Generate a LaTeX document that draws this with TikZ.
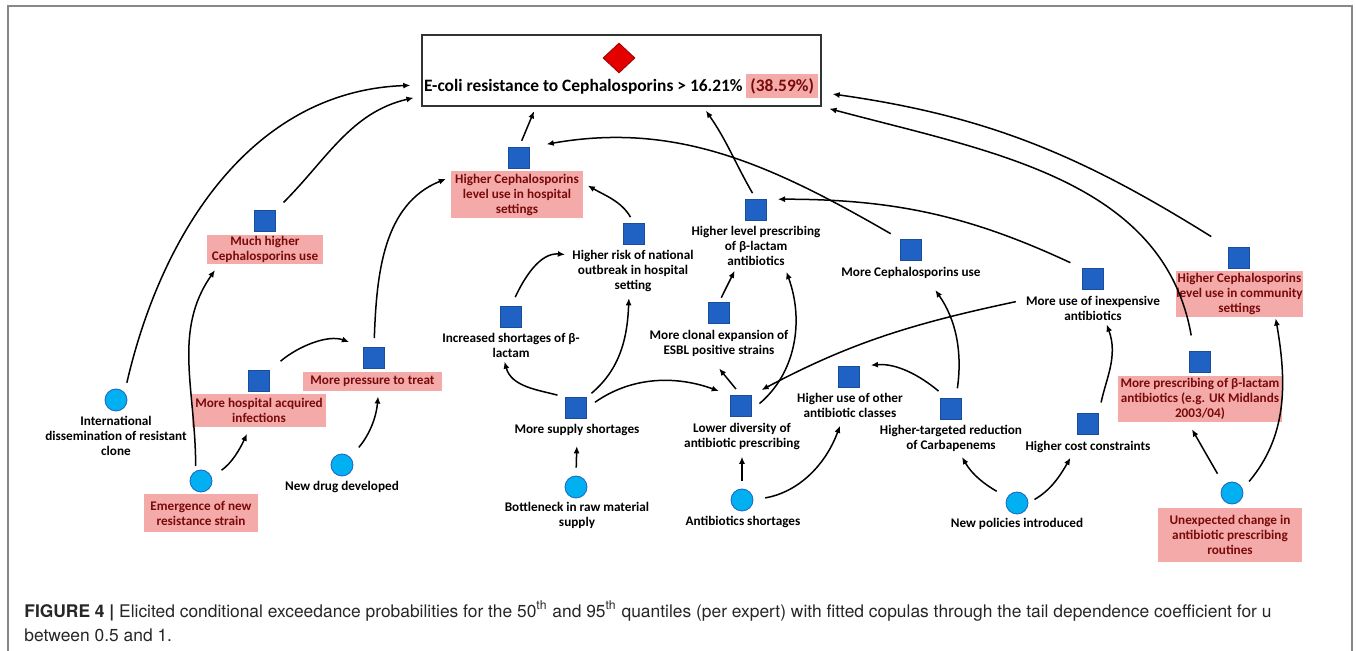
\documentclass[tikz,border=0pt]{standalone}
\usepackage{fontspec}
\setmainfont{TeX Gyre Heros}
\newfontfamily\carlito{Carlito}
\usetikzlibrary{arrows.meta,shapes.geometric}
\definecolor{pinkbox}{RGB}{245,170,170}
\definecolor{boxtext}{RGB}{120,10,10}
\definecolor{sqblue}{RGB}{31,98,196}
\definecolor{dotblue}{RGB}{0,176,240}
\definecolor{framegray}{RGB}{135,135,135}
\newcommand{\labfont}{\carlito\bfseries\fontsize{6.6}{7.5}\selectfont}
\newcommand{\pinkhl}[1]{{\setlength{\fboxsep}{2pt}\colorbox{pinkbox}{\textcolor{boxtext}{#1}}}}

\begin{document}
\begin{tikzpicture}[x=0.5pt, y=0.5pt, >={Latex[length=3.6pt,width=3pt]},
    sq/.style={rectangle, minimum size=10.5pt, inner sep=0pt, fill=sqblue, draw=sqblue!80!black, line width=0.3pt},
    dot/.style={circle, minimum size=11pt, inner sep=0pt, fill=dotblue, draw=sqblue, line width=0.4pt},
    lbl/.style={font=\labfont, align=center, inner sep=1pt},
    plbl/.style={lbl, fill=pinkbox, text=boxtext, inner sep=0pt},
    arr/.style={->, line width=0.75pt}]

\useasboundingbox (0,0) rectangle (1356,-651);
\fill[white] (0,0) rectangle (1356,-651);

% Figure frame
\draw[framegray, line width=0.7pt] (8,-651) -- (8,-6) -- (1352,-6) -- (1352,-651);

% Target node
\node[draw=black!80, line width=0.6pt, minimum width=199.5pt, minimum height=35.5pt, inner sep=0pt] (goal) at (621.5,-70.5) {};
\node[diamond, fill=red!90!black, draw=red!60!black, minimum width=16pt, minimum height=15pt, inner sep=0pt] (goalmark) at (619,-58) {};
\node[font=\carlito\bfseries\fontsize{8.7}{10}\selectfont, inner sep=0pt] (goaltxt) at (621,-86) {E-coli resistance to Cephalosporins > 16.21\% \pinkhl{(38.59\%)}};

% Decision nodes (squares)
\node[sq] (hchI) at (519,-158) {};
\node[plbl, minimum width=66pt, minimum height=23.5pt] (hch) at (517,-194.5) {Higher Cephalosporins\\level use in hospital\\settings};
\node[sq] (mhcI) at (265,-221) {};
\node[plbl, minimum width=58pt, minimum height=14.5pt] (mhc) at (265,-249.5) {Much higher\\Cephalosporins use};
\node[sq] (hrnI) at (634,-234) {};
\node[lbl] (hrn) at (633,-271) {Higher risk of national\\outbreak in hospital\\setting};
\node[sq] (hlpI) at (756,-210) {};
\node[lbl] (hlp) at (756,-246) {Higher level prescribing\\of β-lactam\\antibiotics};
\node[sq] (isbI) at (511,-317) {};
\node[lbl] (isb) at (511,-345) {Increased shortages of β-\\lactam};
\node[sq] (mceI) at (719,-313) {};
\node[lbl] (mce) at (719,-343) {More clonal expansion of\\ESBL positive strains};
\node[sq] (mssI) at (576,-408) {};
\node[lbl] (mss) at (577,-430) {More supply shortages};
\node[sq] (ldaI) at (741,-406) {};
\node[lbl] (lda) at (742,-436) {Lower diversity of\\antibiotic prescribing};
\node[sq] (mcuI) at (911,-250) {};
\node[lbl] (mcu) at (911,-273) {More Cephalosporins use};
\node[sq] (muiI) at (1093,-279) {};
\node[lbl] (mui) at (1093,-308) {More use of inexpensive\\antibiotics};
\node[sq] (huoI) at (849,-377) {};
\node[lbl] (huo) at (850,-405.5) {Higher use of other\\antibiotic classes};
\node[sq] (htrI) at (951,-409) {};
\node[lbl] (htr) at (951,-438) {Higher-targeted reduction\\of Carbapenems};
\node[sq] (hccI) at (1088,-424) {};
\node[lbl] (hcc) at (1088,-447) {Higher cost constraints};
\node[sq] (hccoI) at (1239,-258) {};
\node[plbl, minimum width=62.5pt, minimum height=23pt] (hcco) at (1239.5,-294) {Higher Cephalosporins\\level use in community\\settings};
\node[sq] (mpbI) at (1200,-362) {};
\node[plbl, minimum width=82pt, minimum height=23pt] (mpb) at (1200,-399) {More prescribing of β-lactam\\antibiotics (e.g. UK Midlands\\2003/04)};
\node[sq] (mptI) at (374,-358) {};
\node[plbl, minimum width=69.5pt, minimum height=9.5pt] (mpt) at (372.5,-381.5) {More pressure to treat};
\node[sq] (mhaI) at (259,-381) {};
\node[plbl, minimum width=67pt, minimum height=16.5pt] (mha) at (259,-410.5) {More hospital acquired\\infections};

% Chance nodes (circles)
\node[dot] (ucaI) at (1232,-493) {};
\node[plbl, minimum width=72pt, minimum height=27pt] (uca) at (1230,-535) {Unexpected change in\\antibiotic prescribing\\routines};
\node[dot] (npiI) at (1017,-503) {};
\node[lbl] (npi) at (1017,-524) {New policies introduced};
\node[dot] (absI) at (742,-500) {};
\node[lbl] (abs) at (743,-522) {Antibiotics shortages};
\node[dot] (brmI) at (576,-487) {};
\node[lbl] (brm) at (577,-515.5) {Bottleneck in raw material\\supply};
\node[dot] (nddI) at (342,-465) {};
\node[lbl] (ndd) at (342,-487) {New drug developed};
\node[dot] (idrI) at (116,-400) {};
\node[lbl] (idr) at (116,-436) {International\\dissemination of resistant\\clone};
\node[dot] (enrI) at (201,-481) {};
\node[plbl, minimum width=57pt, minimum height=19pt] (enr) at (201,-513) {Emergence of new\\resistance strain};

% Arrows on the left
\draw[arr, shorten <=5pt, shorten >=5.5pt] (idrI.41) to[out=77, in=182] ([yshift=-7.25pt]goal.west);
\draw[arr, shorten <=5.5pt, shorten >=4pt] (mhcI.north east) to[out=45, in=193] ([yshift=-12.75pt]goal.west);
\draw[arr, shorten <=2.5pt, shorten >=3.5pt] (enrI.118) to[out=90, in=235] ([xshift=-23pt]mhc.south);
\draw[arr, shorten <=6pt, shorten >=3.5pt] (enrI.20) to[out=35, in=245] ([xshift=-4.5pt]mha.south);
\draw[arr, shorten <=7pt, shorten >=7.5pt] (mhaI.north east) to[out=40, in=160] (mptI.north west);
\draw[arr, shorten <=6.5pt, shorten >=2.5pt] (nddI.42) to[out=50, in=265] ([xshift=3pt]mpt.south);
\draw[arr, shorten <=4.5pt, shorten >=2.5pt] (mptI.north) to[out=88, in=202] ([yshift=8.75pt]hch.west);
\draw[arr, shorten <=3.5pt, shorten >=2.5pt] (hchI.north) -- ([xshift=-42.75pt]goal.south);

% Arrows in the middle
\draw[arr, shorten <=3.5pt, shorten >=2.5pt] (hrnI.north) to[out=120, in=330] ([yshift=5.75pt]hch.east);
\draw[arr, shorten <=5pt, shorten >=2.5pt] (isbI.north) to[out=65, in=175] ([yshift=8pt]hrn.west);
\draw[arr, shorten <=4pt, shorten >=1pt] (mssI.north west) to[out=165, in=-75] ([xshift=-3.5pt]isb.south);
\draw[arr, shorten <=3pt, shorten >=2pt] (mssI.north east) to[out=40, in=268] ([xshift=-2pt]hrn.south);
\draw[arr, shorten <=5pt, shorten >=6pt] (mssI.east) to[out=35, in=160] (ldaI.north west);
\draw[arr, shorten <=4pt, shorten >=4pt] (brmI.north) -- (mss.south);
\draw[arr, shorten <=4pt, shorten >=2.5pt] (absI.north) -- (lda.south);
\draw[arr, shorten <=6pt, shorten >=3pt] (absI.east) to[out=10, in=250] ([xshift=-4pt]huo.south);
\draw[arr, shorten <=4pt, shorten >=6.4pt] (ldaI.north) -- ([xshift=-4pt]mce.south);
\draw[arr, shorten <=2.5pt, shorten >=1.5pt] (mceI.north) -- ([xshift=-10pt]hlp.south);
\draw[arr, shorten <=5pt, shorten >=2pt] ([yshift=-2pt]ldaI.east) to[out=40, in=-70] ([xshift=14.5pt]hlp.south);
\draw[arr, shorten <=3.5pt, shorten >=2.5pt] (hlpI.north) to[out=120, in=305] ([xshift=40.75pt]goal.south);
\draw[arr, shorten <=5.5pt, shorten >=8.5pt] (mcuI.north west) to[out=150, in=10] (hchI.north east);

% Arrows on the right
\draw[arr, shorten <=6.5pt, shorten >=5.5pt] (muiI.north west) to[out=155, in=0] (hlpI.north east);
\draw[arr, shorten <=4pt, shorten >=5.5pt] ([yshift=4pt]mui.west) to[out=192, in=28] (ldaI.north east);
\draw[arr, shorten <=5.5pt, shorten >=5.5pt] ([xshift=-2pt]htrI.north) to[out=140, in=5] (huoI.north east);
\draw[arr, shorten <=5pt, shorten >=5.5pt] ([xshift=2.5pt]htrI.north) to[out=82, in=-55] ([xshift=9pt]mcu.south);
\draw[arr, shorten <=6pt, shorten >=2pt] (npiI.150) to[out=150, in=-60] ([xshift=4.5pt]htr.south);
\draw[arr, shorten <=3.5pt, shorten >=1.5pt] (npiI.east) to[out=30, in=240] ([xshift=-8pt]hcc.south);
\draw[arr, shorten <=5.5pt, shorten >=1pt] (hccI.north east) to[out=78, in=-70] ([xshift=6.5pt]mui.south);
\draw[arr, shorten <=6.5pt, shorten >=4pt] (ucaI.135) -- ([xshift=-6pt]mpb.south);
\draw[arr, shorten <=5pt, shorten >=0.5pt] (ucaI.20) to[out=50, in=-80] ([xshift=18pt]hcco.south);
\draw[arr, shorten <=8pt, shorten >=4pt] ([xshift=-3pt]mpbI.north) to[out=100, in=-15] (goal.south east);
\draw[arr, shorten <=10pt, shorten >=5.5pt] (hccoI.north west) to[out=148, in=-8] ([yshift=-11pt]goal.east);

% Caption
\node[anchor=north west, inner sep=0pt, align=left, text=black!85, font=\fontsize{8.7}{12}\selectfont] (cap) at (24,-600.5)
  {\textbf{FIGURE 4 |} Elicited conditional exceedance probabilities for the 50\textsuperscript{th} and 95\textsuperscript{th} quantiles (per expert) with fitted copulas through the tail dependence coefficient for u\\between 0.5 and 1.};

\end{tikzpicture}
\end{document}
